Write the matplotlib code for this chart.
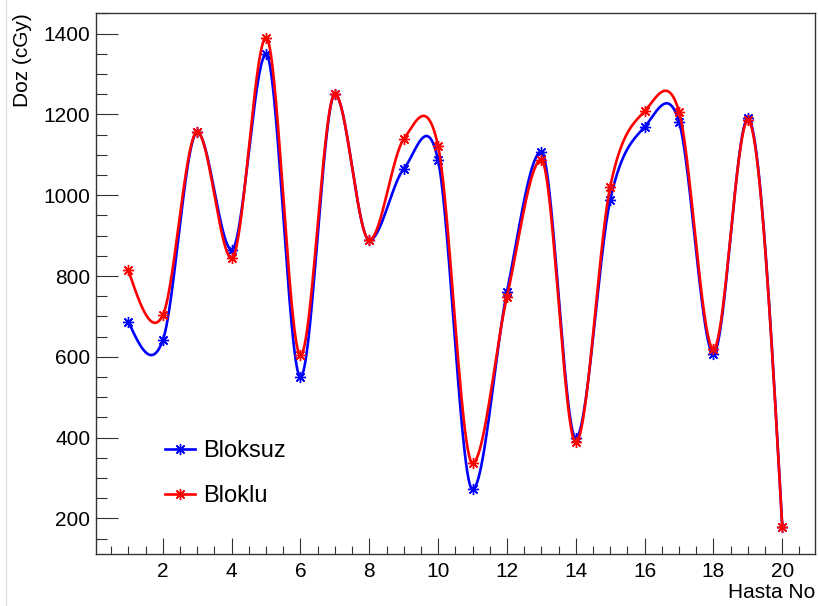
import numpy as np
import matplotlib
matplotlib.use("Agg")
import matplotlib.pyplot as plt
from matplotlib.lines import Line2D
from matplotlib.ticker import MultipleLocator

# Veriler
hasta = np.arange(1, 21)
bloksuz = [687, 641, 1156, 865, 1349, 550, 1250, 889, 1065, 1086,
           272, 761, 1107, 399, 988, 1169, 1182, 608, 1190, 180]
bloklu = [814, 703, 1157, 844, 1390, 604, 1250, 889, 1139, 1121,
          337, 749, 1087, 388, 1021, 1208, 1207, 619, 1185, 178]


# Yumusak egri: Hermite kubik, ROOT "C" cizimine benzeyecek sekilde egimler
def smooth(x, y, xs):
    x = np.asarray(x, float)
    y = np.asarray(y, float)
    n = len(x)
    s = np.diff(y) / np.diff(x)
    m = np.zeros(n)
    for i in range(1, n - 1):
        cr = (y[i + 1] - y[i - 1]) / (x[i + 1] - x[i - 1])
        if s[i - 1] * s[i] < 0:
            r = min(abs(s[i - 1]), abs(s[i])) / max(abs(s[i - 1]), abs(s[i]))
            w = np.clip((0.5 - r) / 0.25, 0, 1)
            m[i] = w * cr
        else:
            m[i] = cr
    m[0] = (3 * s[0] - m[1]) / 2
    m[-1] = (3 * s[-1] - m[-2]) / 2
    k = np.clip(np.searchsorted(x, xs) - 1, 0, n - 2)
    h = x[k + 1] - x[k]
    t = (xs - x[k]) / h
    h00 = 2 * t**3 - 3 * t**2 + 1
    h10 = t**3 - 2 * t**2 + t
    h01 = -2 * t**3 + 3 * t**2
    h11 = t**3 - t**2
    return h00 * y[k] + h10 * h * m[k] + h01 * y[k + 1] + h11 * h * m[k + 1]


xs = np.linspace(1, 20, 1500)
FONT = ['Liberation Sans', 'DejaVu Sans']

fig = plt.figure(figsize=(8.18, 6.06), dpi=100)
ax = fig.add_axes([0.117, 0.0858, 0.8793, 0.8927])

mk = (8, 2, 0)
ax.plot(xs, smooth(hasta, bloksuz, xs), color='#0000ff', lw=1.9)
ax.plot(hasta, bloksuz, ls='none', marker=mk, ms=8, mec='#0000ff', mew=1.0)
ax.plot(xs, smooth(hasta, bloklu, xs), color='#ff0000', lw=1.9)
ax.plot(hasta, bloklu, ls='none', marker=mk, ms=8, mec='#ff0000', mew=1.0)

ax.set_xlim(0.05, 20.95)
ax.set_ylim(112, 1451)
ax.xaxis.set_major_locator(MultipleLocator(2))
ax.xaxis.set_minor_locator(MultipleLocator(0.5))
ax.yaxis.set_major_locator(MultipleLocator(200))
ax.yaxis.set_minor_locator(MultipleLocator(50))

ax.tick_params(axis='both', which='both', direction='in', labelsize=15,
               width=0.8, color='#333333')
ax.tick_params(axis='y', which='major', length=15.6, pad=4)
ax.tick_params(axis='y', which='minor', length=7.8)
ax.tick_params(axis='x', which='major', length=11.7, pad=6)
ax.tick_params(axis='x', which='minor', length=5.8)
for lab in ax.get_xticklabels() + ax.get_yticklabels():
    lab.set_family(FONT)
for sp in ax.spines.values():
    sp.set_linewidth(1.0)
    sp.set_color('#333333')

ax.set_ylabel('Doz (cGy)', fontsize=15, loc='top', family=FONT)
ax.yaxis.set_label_coords(-0.088, 1.0)
ax.set_xlabel('Hasta No', fontsize=15, loc='right', family=FONT)
ax.xaxis.set_label_coords(1.0, -0.054)

handles = [Line2D([], [], color='#0000ff', lw=1.9, marker=mk, ms=8, mew=1.0),
           Line2D([], [], color='#ff0000', lw=1.9, marker=mk, ms=8, mew=1.0)]
ax.legend(handles, ['Bloksuz', 'Bloklu'], loc='upper left',
          bbox_to_anchor=(0.096, 0.211), frameon=False, borderpad=0,
          borderaxespad=0, handlelength=1.27, handletextpad=0.34,
          labelspacing=0.98, prop={'family': FONT, 'size': 17})

fig.add_artist(Line2D([5.5 / 818] * 2, [0, 1], color='#e0e0e0', lw=1,
                      transform=fig.transFigure))

fig.savefig('out.png', dpi=100)
